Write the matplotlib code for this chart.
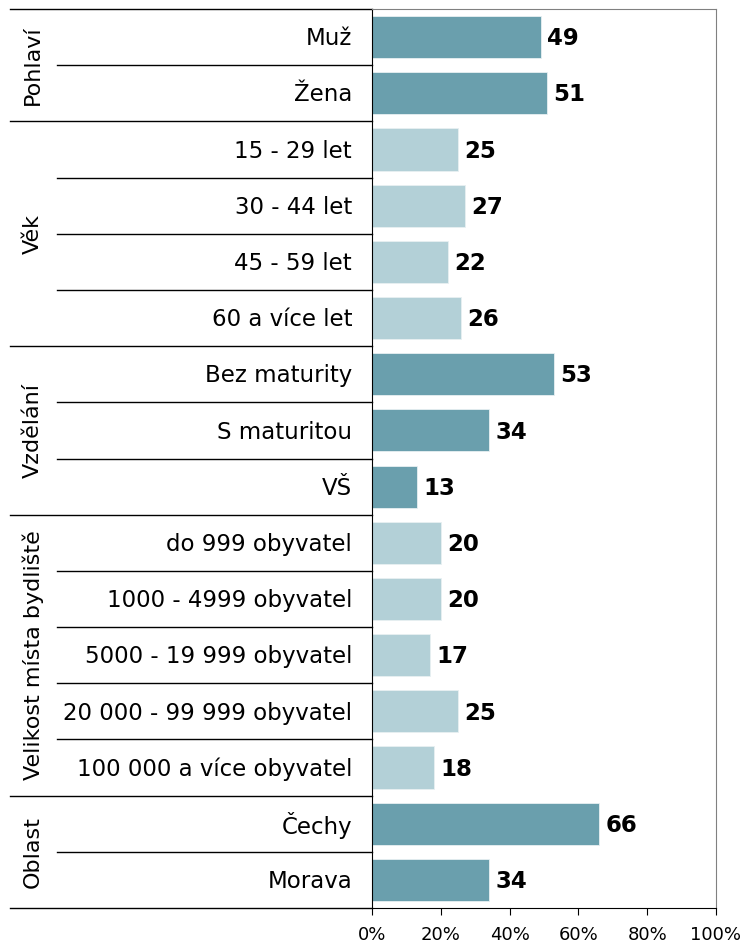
import matplotlib.pyplot as plt
from matplotlib.transforms import blended_transform_factory

categories = ['Muž', 'Žena',
              '15 - 29 let', '30 - 44 let', '45 - 59 let', '60 a více let',
              'Bez maturity', 'S maturitou', 'VŠ',
              'do 999 obyvatel', '1000 - 4999 obyvatel', '5000 - 19 999 obyvatel',
              '20 000 - 99 999 obyvatel', '100 000 a více obyvatel',
              'Čechy', 'Morava']
values = [49, 51, 25, 27, 22, 26, 53, 34, 13, 20, 20, 17, 25, 18, 66, 34]
groups = ['Pohlaví', 'Věk', 'Vzdělání', 'Velikost místa bydliště', 'Oblast']
group_sizes = [2, 4, 3, 5, 2]

dark = '#6a9fad'
light = '#b3d0d7'

fig = plt.figure(figsize=(7.44, 9.43), dpi=100)
ax = fig.add_axes([372 / 744, 1 - 908 / 943, 344 / 744, 899 / 943])

colors = []
for g, n in enumerate(group_sizes):
    colors += [dark if g % 2 == 0 else light] * n

y = list(range(len(categories)))
ax.barh(y, values, height=0.75, color=colors, edgecolor='#e8f0f2', linewidth=0.6)

for yi, v in zip(y, values):
    ax.text(v + 1.8, yi + 0.03, str(v), va='center', ha='left', fontsize=16.5, fontweight='bold')

ax.set_xlim(0, 100)
ax.set_ylim(len(categories) - 0.5, -0.5)
ax.set_xticks(range(0, 101, 20))
ax.set_xticklabels([f'{t}%' for t in range(0, 101, 20)], fontsize=13)
ax.tick_params(axis='x', length=5, pad=8)
ax.set_yticks([])

for side in ['top', 'right']:
    ax.spines[side].set_color('#808080')
for side in ['left', 'bottom']:
    ax.spines[side].set_color('black')

tr = blended_transform_factory(ax.transAxes, ax.transData)
x_group = (10 - 372) / 344
x_item = (57 - 372) / 344
x_text = (352 - 372) / 344
x_glabel = (33 - 372) / 344

for yi, cat in zip(y, categories):
    ax.text(x_text, yi + 0.03, cat, transform=tr, ha='right', va='center', fontsize=16.5)

start = 0
ax.plot([x_group, 0], [-0.5, -0.5], transform=tr, color='black', lw=1, clip_on=False)
for name, n in zip(groups, group_sizes):
    for k in range(1, n):
        ax.plot([x_item, 0], [start + k - 0.5] * 2, transform=tr, color='black', lw=1, clip_on=False)
    end = start + n - 0.5
    ax.plot([x_group, 0], [end, end], transform=tr, color='black', lw=1, clip_on=False)
    ax.text(x_glabel, start + (n - 1) / 2, name, transform=tr, rotation=90,
            ha='center', va='center', fontsize=16)
    start += n

fig.savefig('out.png', dpi=100)
